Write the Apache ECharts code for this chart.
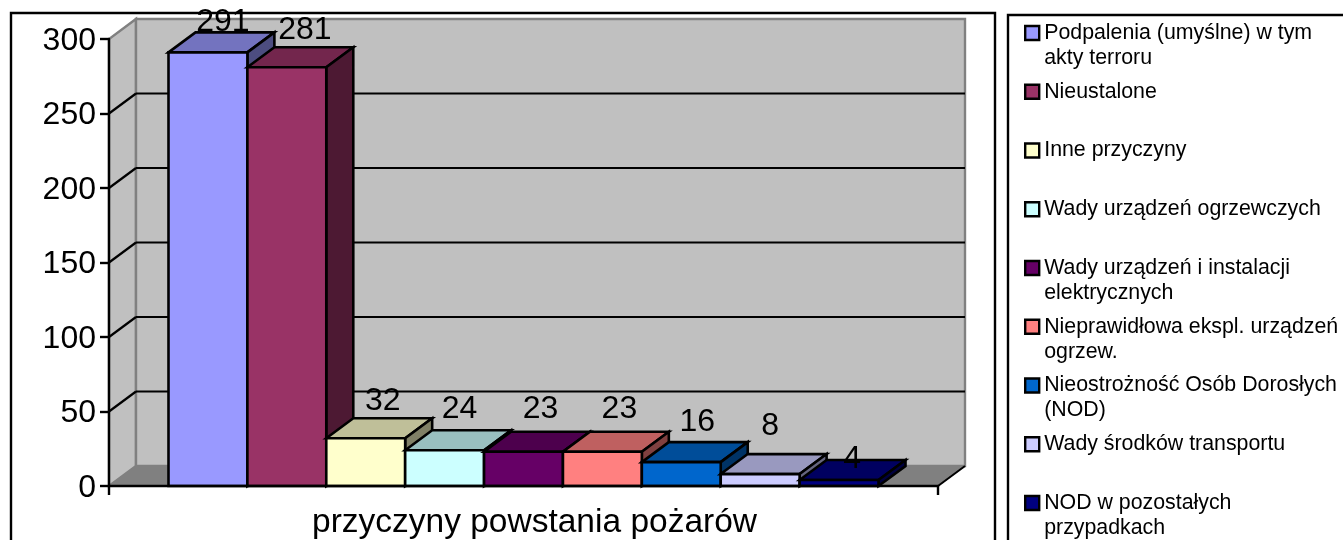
<!DOCTYPE html>
<html>
<head>
<meta charset="utf-8">
<style>html,body{margin:0;padding:0;background:#fff;overflow:hidden}#c{width:1343px;height:540px}</style>
<script src="https://cdn.jsdelivr.net/npm/echarts@6/dist/echarts.min.js"></script>
</head>
<body>
<div id="c"></div>
<script>
const categoryLabels = ['przyczyny powstania pożarów'];
const causes = [
  'Podpalenia (umyślne) w tym\nakty terroru',
  'Nieustalone',
  'Inne przyczyny',
  'Wady urządzeń ogrzewczych',
  'Wady urządzeń i instalacji\nelektrycznych',
  'Nieprawidłowa ekspl. urządzeń\nogrzew.',
  'Nieostrożność Osób Dorosłych\n(NOD)',
  'Wady środków transportu',
  'NOD w pozostałych\nprzypadkach'
];
const values = [291, 281, 32, 24, 23, 23, 16, 8, 4];
const yTicks = [0, 50, 100, 150, 200, 250, 300];
const frontColors = ['#9999FF','#993366','#FFFFCC','#CCFFFF','#660066','#FF8080','#0066CC','#CCCCFF','#000080'];
const topColors   = ['#7373BF','#73264D','#BFBF99','#99BFBF','#4D004D','#BF6060','#004D99','#9999BF','#000060'];
const sideColors  = ['#4D4D80','#4D1933','#808066','#668080','#330033','#804040','#003366','#666680','#000040'];
// label offsets from the bar's top-front centre (the original labels were hand-placed)
const labelShift = [[15,-30],[18,-37],[17,-37],[15,-41],[17,-43],[17,-43],[16,-40],[10,-48],[13,-21]];

const DX = 27, DY = -20;            // 3D depth of the plot
const GROUP_RATIO = 710 / 829;      // bars occupy this share of the band
const LW = 2.6;

function poly(points, fill, stroke, width) {
  return { type:'polygon', shape:{points}, style:{fill, stroke, lineWidth:width, lineJoin:'miter'} };
}
function seg(a, b, color, width) {
  return { type:'line', shape:{x1:a[0],y1:a[1],x2:b[0],y2:b[1]}, style:{stroke:color, lineWidth:width} };
}

function renderWalls(params, api) {
  const v = api.value(1);
  const band = api.size([1,0])[0];
  const c = api.coord([0, v]);
  const L = c[0] - band/2, R = c[0] + band/2, y = c[1];
  const y0 = api.coord([0, 0])[1], yT = api.coord([0, yTicks[yTicks.length-1]])[1];
  const kids = [];
  if (v === 0) {
    kids.push(poly([[L,y0],[L+DX,y0+DY],[L+DX,yT+DY],[L,yT]], '#C0C0C0', '#808080', 2.4));
    kids.push(poly([[L+DX,y0+DY],[R+DX,y0+DY],[R+DX,yT+DY],[L+DX,yT+DY]], '#C0C0C0', '#808080', 2.4));
    kids.push(poly([[L,y0],[L+DX,y0+DY],[R+DX,y0+DY],[R,y0]], '#808080', '#808080', 1));
    kids.push(seg([R,y0],[R+DX,y0+DY],'#000',2));
  } else if (v < yTicks[yTicks.length-1]) {
    kids.push(seg([L,y],[L+DX,y+DY],'#000',2.2));
    kids.push(seg([L+DX,y+DY],[R+DX,y+DY],'#000',2.2));
  }
  return { type:'group', children:kids };
}

function renderBar(i) {
  return function (params, api) {
    const band = api.size([1,0])[0];
    const w = band * GROUP_RATIO / causes.length;
    const top = api.coord([0, api.value(1)]);
    const base = api.coord([0, 0]);
    const x = top[0] - band * GROUP_RATIO / 2 + i * w;
    const y = top[1], b = base[1];
    return { type:'group', children:[
      poly([[x,y],[x+DX,y+DY],[x+w+DX,y+DY],[x+w,y]], topColors[i], '#000', LW),
      poly([[x+w,y],[x+w+DX,y+DY],[x+w+DX,b+DY],[x+w,b]], sideColors[i], '#000', LW),
      poly([[x,y],[x+w,y],[x+w,b],[x,b]], frontColors[i], '#000', LW),
      { type:'text', z2:50, style:{
          x: x + w/2 + labelShift[i][0], y: y + labelShift[i][1],
          text: String(api.value(1)), fill:'#000',
          font:'32px "Liberation Sans", Arial, sans-serif',
          align:'center', verticalAlign:'middle' } }
    ]};
  };
}

const series = [{
  type:'custom', name:'walls', silent:true, z:1, clip:false,
  data: yTicks.map(v => [0, v]), encode:{x:0,y:1}, renderItem: renderWalls
}];
causes.forEach((name, i) => {
  series.push({
    type:'custom', name, z:3 + i, clip:false,
    itemStyle:{color:frontColors[i]},
    data:[[0, values[i]]], encode:{x:0,y:1}, renderItem: renderBar(i)
  });
});

const chart = echarts.init(document.getElementById('c'), null, {renderer:'canvas'});
chart.setOption({
  animation:false,
  backgroundColor:'#fff',
  tooltip:{show:false},
  grid:{left:109, right:405, top:39, bottom:54, containLabel:false},
  xAxis:{
    type:'category', data:categoryLabels, z:20,
    axisLine:{lineStyle:{color:'#000',width:2.4}},
    axisTick:{show:true,length:9,lineStyle:{color:'#000',width:2.4}},
    axisLabel:{color:'#000',fontFamily:'"Liberation Sans", Arial, sans-serif',fontSize:33.5,margin:20,padding:[0,0,0,22]}
  },
  yAxis:{
    type:'value', min:0, max:300, interval:50, z:20,
    splitLine:{show:false},
    axisLine:{show:true,lineStyle:{color:'#000',width:2.4}},
    axisTick:{show:true,length:9,lineStyle:{color:'#000',width:2.4}},
    axisLabel:{
      color:'#000',fontSize:32,margin:13,
      formatter:'{t|{value}}',
      rich:{t:{color:'#000',fontFamily:'"Liberation Sans", Arial, sans-serif',fontSize:32,lineHeight:36,padding:[4,0,0,0]}}
    }
  },
  legend:{
    orient:'vertical', left:1024, top:-4.5, height:600, padding:0, selectedMode:false,
    align:'left', icon:'rect', itemWidth:14, itemHeight:14, itemGap:-16.25,
    itemStyle:{borderColor:'#000',borderWidth:2.4},
    data:causes,
    // a blank first line keeps each entry's first text line level with its symbol
    formatter:n => ' \n' + (n.indexOf('\n') >= 0 ? n : n + '\n '),
    textStyle:{color:'#000',fontFamily:'"Liberation Sans", Arial, sans-serif',fontSize:21.33,lineHeight:25}
  },
  graphic:[
    {type:'rect',silent:true,z:-10,shape:{x:11,y:13,width:984,height:540},style:{fill:'#fff',stroke:'#000',lineWidth:2.4}},
    {type:'rect',silent:true,z:-10,shape:{x:1008,y:15,width:360,height:540},style:{fill:'#fff',stroke:'#000',lineWidth:2.4}}
  ],
  series
});
</script>
</body>
</html>
